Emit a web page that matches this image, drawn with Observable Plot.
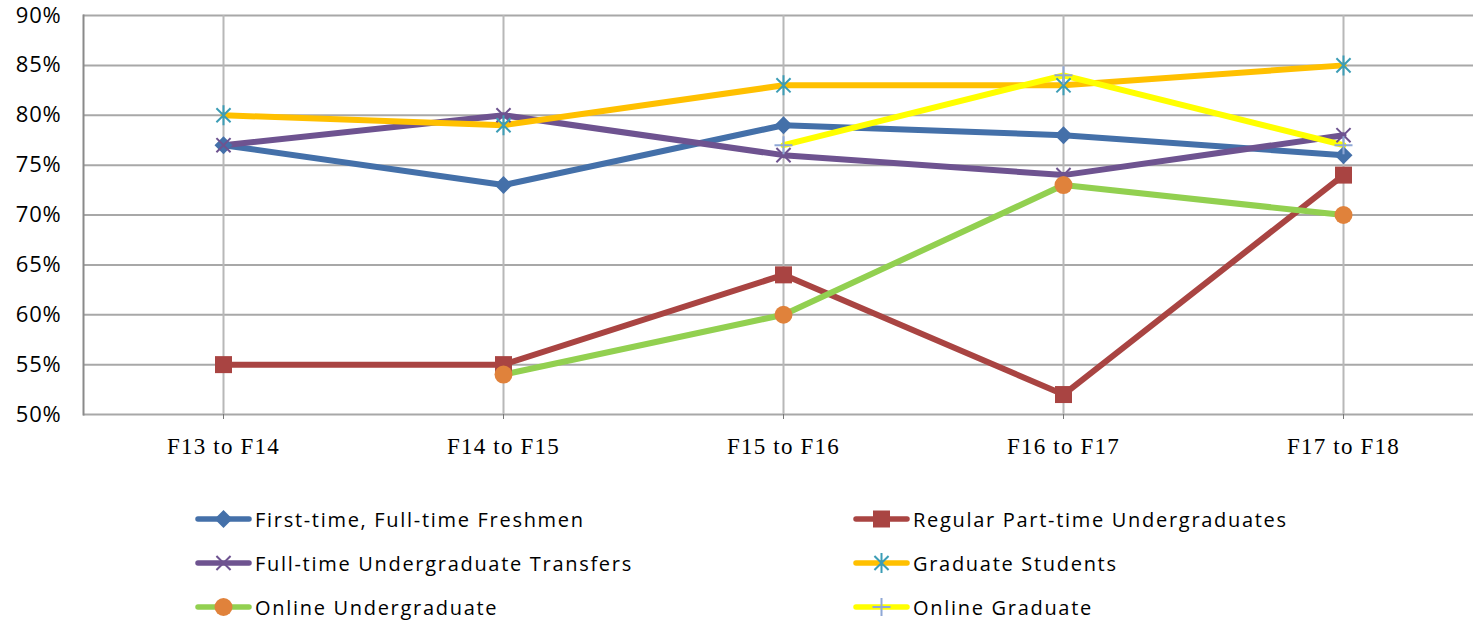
<!DOCTYPE html>
<html><head><meta charset="utf-8">
<script src="https://cdn.jsdelivr.net/npm/d3@7"></script>
<script src="https://cdn.jsdelivr.net/npm/@observablehq/plot@0.6"></script>
<style>
body{margin:0;background:#fff;}
#wrap{position:relative;width:1473px;height:621px;overflow:hidden;background:#fff}
#chart{position:absolute;left:0;top:0}
#legend{position:absolute;left:195px;top:497px;display:grid;grid-template-columns:658px 500px;grid-auto-rows:44px}
.item{display:flex;align-items:center;font-family:"Open Sans",sans-serif;font-size:20px;letter-spacing:1.7px;color:#000;white-space:nowrap}
.item svg{margin-right:3px;flex:none}
</style></head><body>
<div id="wrap"><div id="chart"></div><div id="legend"></div></div>
<script>
const categories = ["F13 to F14", "F14 to F15", "F15 to F16", "F16 to F17", "F17 to F18"];
const seriesNames = ["First-time, Full-time Freshmen", "Regular Part-time Undergraduates", "Full-time Undergraduate Transfers", "Graduate Students", "Online Undergraduate", "Online Graduate"];
const freshmen        = [0.77, 0.73, 0.79, 0.78, 0.76];
const partTime        = [0.55, 0.55, 0.64, 0.52, 0.74];
const transfers       = [0.77, 0.80, 0.76, 0.74, 0.78];
const graduate        = [0.80, 0.79, 0.83, 0.83, 0.85];
const onlineUndergrad = [null, 0.54, 0.60, 0.73, 0.70];
const onlineGrad      = [null, null, 0.77, 0.84, 0.77];
const yTicks = [0.50, 0.55, 0.60, 0.65, 0.70, 0.75, 0.80, 0.85, 0.90];

const seriesValues = [freshmen, partTime, transfers, graduate, onlineUndergrad, onlineGrad];

// custom Excel-like marker shapes
const star = {draw(ctx, size){ const r = Math.sqrt(size/Math.PI); const d = r*0.7071;
  ctx.moveTo(0,-r); ctx.lineTo(0,r); ctx.moveTo(-d,-d); ctx.lineTo(d,d); ctx.moveTo(-d,d); ctx.lineTo(d,-d);} };
const cross = {draw(ctx, size){ const r = Math.sqrt(size/Math.PI); const d = r*0.7071;
  ctx.moveTo(-d,-d); ctx.lineTo(d,d); ctx.moveTo(-d,d); ctx.lineTo(d,-d);} };
const plus = {draw(ctx, size){ const r = Math.sqrt(size/Math.PI);
  ctx.moveTo(0,-r); ctx.lineTo(0,r); ctx.moveTo(-r,0); ctx.lineTo(r,0);} };
const diamond = {draw(ctx, size){ const r = Math.sqrt(size/Math.PI);
  ctx.moveTo(0,-r); ctx.lineTo(r,0); ctx.lineTo(0,r); ctx.lineTo(-r,0); ctx.closePath();} };
const square = {draw(ctx, size){ const r = Math.sqrt(size/Math.PI);
  ctx.rect(-r,-r,2*r,2*r);} };
const circle = {draw(ctx, size){ const r = Math.sqrt(size/Math.PI);
  ctx.moveTo(r,0); ctx.arc(0,0,r,0,2*Math.PI);} };

const styles = [
  {line:"#4470A9", symbol:diamond, fill:"#4470A9", stroke:"none", r:9,   sw:0},
  {line:"#A94442", symbol:square,  fill:"#A94442", stroke:"none", r:8.5, sw:0},
  {line:"#6E5390", symbol:cross,   fill:"none", stroke:"#6E5390", r:10,  sw:2},
  {line:"#FFC000", symbol:star,    fill:"none", stroke:"#3C9DB6", r:10,  sw:2},
  {line:"#92D050", symbol:circle,  fill:"#E0823B", stroke:"none", r:9,   sw:0},
  {line:"#FFFF00", symbol:plus,    fill:"none", stroke:"#8FA8D6", r:9,   sw:2}
];

const rows = [];
seriesNames.forEach((name, si) => {
  seriesValues[si].forEach((v, ci) => { if (v != null) rows.push({series: name, cat: categories[ci], value: v}); });
});

const marks = [
  Plot.gridY(yTicks, {stroke:"#a8a8a8", strokeOpacity:1, strokeWidth:2}),
  Plot.ruleX(categories, {x: d => d, y1: 0.5, y2: 0.9, stroke:"#b8b8b8", strokeWidth:2}),
  Plot.frame({anchor:"left", stroke:"#8a8a8a", strokeWidth:2}),
  Plot.axisY(yTicks, {tickFormat: d3.format(".0%"), tickSize:0, tickPadding:22, fontSize:22,
    fontFamily:"Open Sans", label:null, fill:"#000"}),
  Plot.axisX(categories, {tickSize:5, tickPadding:18, fontSize:23, fontFamily:"Liberation Serif", label:null, stroke:"#777", fill:"#000"})
];
seriesNames.forEach((name, si) => {
  const s = styles[si];
  marks.push(Plot.line(rows.filter(d => d.series === name), {x:"cat", y:"value", stroke:s.line, strokeWidth:6, strokeLinejoin:"round", strokeLinecap:"round"}));
});
seriesNames.forEach((name, si) => {
  const s = styles[si];
  marks.push(Plot.dot(rows.filter(d => d.series === name), {x:"cat", y:"value", symbol: s.symbol, r: s.r, fill: s.fill, stroke: s.stroke, strokeWidth: s.sw}));
});

const chart = Plot.plot({
  width: 1473, height: 470,
  marginLeft: 83, marginRight: 0, marginTop: 15, marginBottom: 56,
  style: {background:"#fff", overflow:"visible"},
  x: {type:"point", domain: categories, range:[222, 1344], padding: 0},
  y: {domain:[0.5, 0.9], range:[414, 15]},
  marks
});
document.getElementById("chart").append(chart);
chart.querySelectorAll("text").forEach(t => t.style.letterSpacing = t.closest('[aria-label="x-axis tick label"]') ? "1.2px" : "0.8px");

// legend
const legend = document.getElementById("legend");
seriesNames.forEach((name, si) => {
  const s = styles[si];
  const item = document.createElement("div"); item.className = "item";
  const svg = d3.create("svg").attr("width", 57).attr("height", 24);
  svg.append("line").attr("x1", 3).attr("x2", 54).attr("y1", 12).attr("y2", 12)
    .attr("stroke", s.line).attr("stroke-width", 5.5).attr("stroke-linecap", "round");
  svg.append("path").attr("transform", "translate(28.5,12)")
    .attr("d", d3.symbol(s.symbol, Math.PI * s.r * s.r)())
    .attr("fill", s.fill).attr("stroke", s.stroke).attr("stroke-width", s.sw);
  item.append(svg.node());
  const span = document.createElement("span"); span.textContent = name;
  item.append(span);
  legend.append(item);
});
</script>
</body></html>
